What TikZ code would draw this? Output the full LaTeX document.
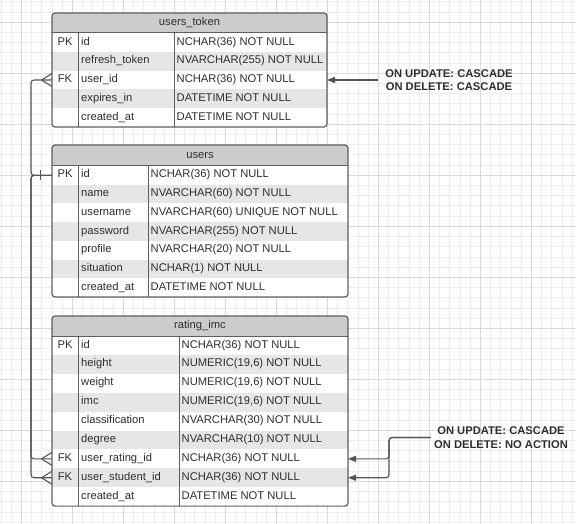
\documentclass[tikz,border=0pt]{standalone}
\usepackage{fontspec}
\setmainfont{Liberation Sans}
\usetikzlibrary{arrows.meta,calc}
\definecolor{gridminor}{HTML}{EDEDED}
\definecolor{gridmajor}{HTML}{D9D9D9}
\definecolor{bordercol}{HTML}{5E5E5E}
\definecolor{headfill}{HTML}{CCCCCC}
\definecolor{rowfill}{HTML}{E6E6E6}
\definecolor{txt}{HTML}{2E2E2E}
\definecolor{conncol}{HTML}{555555}
\tikzset{
  celltext/.style={inner sep=0pt, text=txt, font=\fontsize{11.2}{13}\selectfont},
  divider/.style={draw=bordercol, line width=1pt},
  tableborder/.style={draw=bordercol, line width=1.2pt},
  conn/.style={draw=conncol, line width=1.1pt},
  arr/.style={conn, -{Triangle[length=8pt,width=6pt]}},
  fklabel/.style={align=center, text=txt, font=\fontsize{11.2}{13.4}\selectfont\bfseries},
}
\newcommand\TabX[4]{\def\xa{#1}\def\xb{#2}\def\xc{#3}\def\xd{#4}}
\newcommand\DrawFrame[6]{% #1 name #2 ytop #3 yhead #4 rowh #5 nrows #6 title
  \pgfmathsetmacro\ybot{#3+#4*#5}
  \begin{scope}
    \clip[rounded corners=3] (\xa,#2) rectangle (\xd,\ybot);
    \fill[white] (\xa,#2) rectangle (\xd,\ybot);
    \fill[headfill] (\xa,#2) rectangle (\xd,#3);
    \foreach \i in {1,3,...,#5}{\ifnum\i<#5 \fill[rowfill] (\xa,{#3+#4*\i}) rectangle (\xd,{#3+#4*(\i+1)});\fi}
  \end{scope}
  \draw[divider] (\xa,#3) -- (\xd,#3);
  \draw[divider] (\xb,#3) -- (\xb,\ybot);
  \draw[divider] (\xc,#3) -- (\xc,\ybot);
  \draw[tableborder, rounded corners=3] (\xa,#2) rectangle (\xd,\ybot);
  \node[celltext, anchor=mid] (#1) at ({(\xa+\xd)/2},{(#2+#3)/2}) {#6};
}
\newcommand\TabRow[6]{% #1 name #2 ytop #3 ybot #4 key #5 field #6 type
  \coordinate (#1-w) at (\xa,{(#2+#3)/2});
  \coordinate (#1-e) at (\xd,{(#2+#3)/2});
  \node[celltext, anchor=mid] (#1-key) at ({(\xa+\xb)/2},{(#2+#3)/2}) {#4};
  \node[celltext, anchor=mid west] (#1-name) at ({\xb+3},{(#2+#3)/2}) {#5};
  \node[celltext, anchor=mid west] (#1-type) at ({\xc+2.5},{(#2+#3)/2}) {#6};
}
\newcommand\Crow[1]{%
  \draw[conn] ($(#1)+(-10.5,0)$) -- ($(#1)+(0,-6.5)$);
  \draw[conn] ($(#1)+(-10.5,0)$) -- ($(#1)+(0,6.5)$);
}
\begin{document}
\begin{tikzpicture}[x=1pt,y=-1pt]
\useasboundingbox (0,0) rectangle (576,524);
\fill[white] (0,0) rectangle (576,524);
% grid
\foreach \k in {0,...,56}{
  \pgfmathsetmacro\gx{0.9+10.2*\k}
  \draw[gridminor, line width=0.8pt] (\gx,0) -- (\gx,524);
}
\foreach \k in {0,...,51}{
  \pgfmathsetmacro\gy{1.9+10.2*\k}
  \draw[gridminor, line width=0.8pt] (0,\gy) -- (576,\gy);
}
\foreach \k in {0,...,11}{
  \pgfmathsetmacro\gx{21.3+51*\k}
  \draw[gridmajor, line width=0.9pt] (\gx,0) -- (\gx,524);
}
\foreach \k in {0,...,10}{
  \pgfmathsetmacro\gy{22.3+51*\k}
  \draw[gridmajor, line width=0.9pt] (0,\gy) -- (576,\gy);
}

% ---- users_token
\TabX{52}{78}{174}{327}
\DrawFrame{ut}{13}{33}{18.8}{5}{users\_token}
\TabRow{ut-id}{33}{51.8}{PK}{id}{NCHAR(36) NOT NULL}
\TabRow{ut-rt}{51.8}{70.6}{}{refresh\_token}{NVARCHAR(255) NOT NULL}
\TabRow{ut-fk}{70.6}{89.4}{FK}{user\_id}{NCHAR(36) NOT NULL}
\TabRow{ut-ex}{89.4}{108.2}{}{expires\_in}{DATETIME NOT NULL}
\TabRow{ut-ca}{108.2}{127}{}{created\_at}{DATETIME NOT NULL}

% ---- users
\TabX{52}{78}{148}{348}
\DrawFrame{us}{145}{166}{18.7}{7}{users}
\TabRow{us-id}{166}{184.7}{PK}{id}{NCHAR(36) NOT NULL}
\TabRow{us-nm}{184.7}{203.4}{}{name}{NVARCHAR(60) NOT NULL}
\TabRow{us-un}{203.4}{222.1}{}{username}{NVARCHAR(60) UNIQUE NOT NULL}
\TabRow{us-pw}{222.1}{240.8}{}{password}{NVARCHAR(255) NOT NULL}
\TabRow{us-pf}{240.8}{259.5}{}{profile}{NVARCHAR(20) NOT NULL}
\TabRow{us-si}{259.5}{278.2}{}{situation}{NCHAR(1) NOT NULL}
\TabRow{us-ca}{278.2}{296.9}{}{created\_at}{DATETIME NOT NULL}

% ---- rating_imc
\TabX{52}{78}{179}{348}
\DrawFrame{ri}{316}{336}{18.9}{9}{rating\_imc}
\TabRow{ri-id}{336}{354.9}{PK}{id}{NCHAR(36) NOT NULL}
\TabRow{ri-he}{354.9}{373.8}{}{height}{NUMERIC(19,6) NOT NULL}
\TabRow{ri-we}{373.8}{392.7}{}{weight}{NUMERIC(19,6) NOT NULL}
\TabRow{ri-im}{392.7}{411.6}{}{imc}{NUMERIC(19,6) NOT NULL}
\TabRow{ri-cl}{411.6}{430.5}{}{classification}{NVARCHAR(30) NOT NULL}
\TabRow{ri-de}{430.5}{449.4}{}{degree}{NVARCHAR(10) NOT NULL}
\TabRow{ri-ur}{449.4}{468.3}{FK}{user\_rating\_id}{NCHAR(36) NOT NULL}
\TabRow{ri-us}{468.3}{487.2}{FK}{user\_student\_id}{NCHAR(36) NOT NULL}
\TabRow{ri-ca}{487.2}{506.1}{}{created\_at}{DATETIME NOT NULL}

% ---- relationships on the left
\coordinate (bus) at (31,0);
\draw[conn, rounded corners=3] (us-id-w) -- (us-id-w -| bus) |- (ut-fk-w);
\draw[conn, rounded corners=3] (us-id-w) -- (us-id-w -| bus) |- (ri-ur-w);
\draw[conn, rounded corners=3] (us-id-w) -- (us-id-w -| bus) |- (ri-us-w);
\draw[conn] ($(us-id-w)+(-11.5,-5)$) -- ($(us-id-w)+(-11.5,5)$);
\Crow{ut-fk-w}
\Crow{ri-ur-w}
\Crow{ri-us-w}

% ---- labels on the right
\node[fklabel] (lab1) at (449,80) {ON UPDATE: CASCADE\\ON DELETE: CASCADE};
\draw[arr] ([xshift=-4pt]lab1.west) -- (ut-fk-e);
\node[fklabel] (lab2) at (501,437.5) {ON UPDATE: CASCADE\\ON DELETE: NO ACTION};
\coordinate (j2) at (389,437.5);
\draw[arr, rounded corners=3] (lab2.west) -- (j2) |- (ri-ur-e);
\draw[arr, rounded corners=3] (lab2.west) -- (j2) |- (ri-us-w -| ri-us-e);
\end{tikzpicture}
\end{document}
